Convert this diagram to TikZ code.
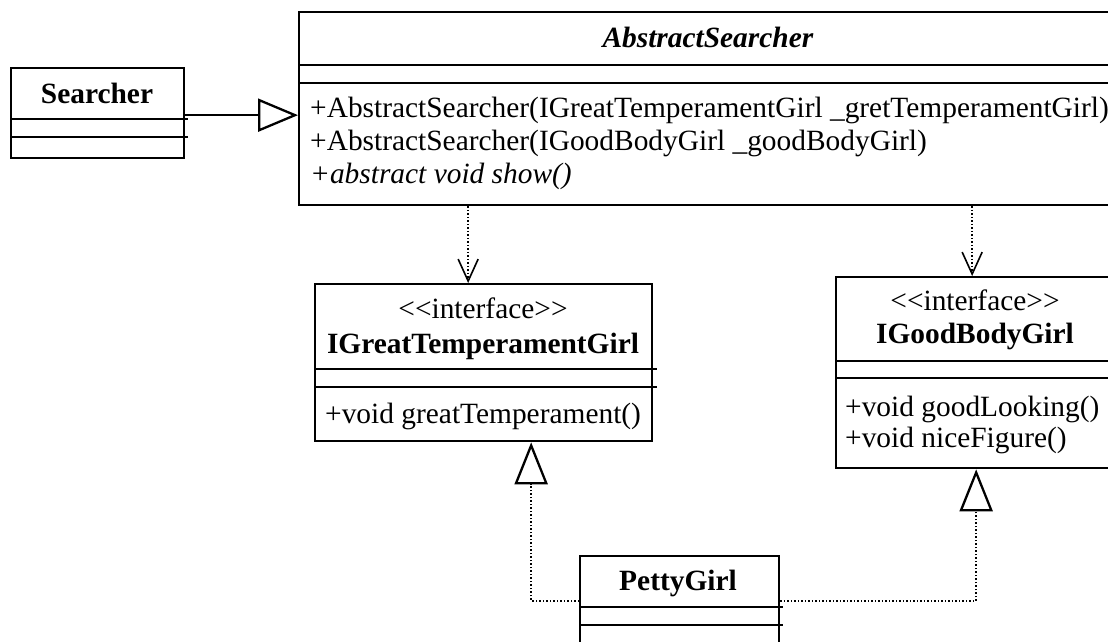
\documentclass[tikz,border=0pt]{standalone}
\usepackage{fontspec}
\setmainfont{Liberation Serif}
\usetikzlibrary{arrows.meta,calc}
\begin{document}
\begin{tikzpicture}[x=1pt,y=-1pt,
  cls/.style={draw, line width=2.3pt, rectangle, inner sep=0pt, anchor=north west},
  div/.style={line width=2.3pt},
  txt/.style={inner sep=0pt, font=\fontsize{29.4pt}{33pt}\selectfont},
  gen/.style={line width=2.3pt, -{Triangle[open, length=40pt, width=33pt, line width=2.3pt]}},
  dep/.style={line width=1.6pt, dash pattern=on 1.5pt off 2pt, -{Straight Barb[length=22pt, width=20pt, line width=1.6pt]}},
  real/.style={line width=1.6pt, dash pattern=on 1.5pt off 2pt, -{Triangle[open, length=42pt, width=33pt, line width=2.3pt]}}
]
\clip (0,0) rectangle (1108,641);
\fill[white] (0,0) rectangle (1108,641);

% class boxes
\node[cls, minimum width=173pt, minimum height=90pt] (searcher) at (10,67) {};
\node[cls, minimum width=817pt, minimum height=193pt] (abs) at (298,11) {};
\node[cls, minimum width=337pt, minimum height=157pt] (igreat) at (314,283) {};
\node[cls, minimum width=280pt, minimum height=191pt] (igood) at (835,276) {};
\node[cls, minimum width=199pt, minimum height=110pt] (petty) at (579,555) {};

% compartment dividers
\draw[div] ($(searcher.north west)+(0,52)$) -- ($(searcher.north east)+(3,52)$);
\draw[div] ($(searcher.north west)+(0,70)$) -- ($(searcher.north east)+(3,70)$);
\draw[div] ($(abs.north west)+(0,54)$) -- ($(abs.north east)+(0,54)$);
\draw[div] ($(abs.north west)+(0,72)$) -- ($(abs.north east)+(0,72)$);
\draw[div] ($(igreat.north west)+(0,86)$) -- ($(igreat.north east)+(4,86)$);
\draw[div] ($(igreat.north west)+(0,104)$) -- ($(igreat.north east)+(4,104)$);
\draw[div] ($(igood.north west)+(0,85)$) -- ($(igood.north east)+(0,85)$);
\draw[div] ($(igood.north west)+(0,102)$) -- ($(igood.north east)+(0,102)$);
\draw[div] ($(petty.north west)+(0,52)$) -- ($(petty.north east)+(3,52)$);
\draw[div] ($(petty.north west)+(0,70)$) -- ($(petty.north east)+(3,70)$);

% texts
\node[txt, anchor=base] (tsearcher) at (97,103) {\textbf{Searcher}};
\node[txt, anchor=base] (tabs) at (708,47) {\textbf{\textit{AbstractSearcher}}};
\node[txt, anchor=base west] (tabs1) at (310,117) {+AbstractSearcher(IGreatTemperamentGirl \_gretTemperamentGirl)};
\node[txt, anchor=base west] (tabs2) at (310,150) {+AbstractSearcher(IGoodBodyGirl \_goodBodyGirl)};
\node[txt, anchor=base west] (tabs3) at (310,183) {\textit{+abstract void show()}};
\node[txt, anchor=base] (tgreat0) at (483,318) {<\kern0pt<interface>\kern0pt>};
\node[txt, anchor=base] (tgreat1) at (483,353) {\textbf{IGreatTemperamentGirl}};
\node[txt, anchor=base west] (tgreat2) at (325,423) {+void greatTemperament()};
\node[txt, anchor=base] (tgood0) at (975,310) {<\kern0pt<interface>\kern0pt>};
\node[txt, anchor=base] (tgood1) at (975,343) {\textbf{IGoodBodyGirl}};
\node[txt, anchor=base west] (tgood2) at (845,416) {+void goodLooking()};
\node[txt, anchor=base west] (tgood3) at (845,447) {+void niceFigure()};
\node[txt, anchor=base] (tpetty) at (678,590) {\textbf{PettyGirl}};

% connectors
\coordinate (s1) at ($(searcher.east)+(0,2)$);
\draw[gen] (s1) -- (s1 -| abs.west);

\coordinate (d1) at ($(igreat.north)+(-15.5,0)$);
\draw[dep] (d1 |- abs.south) -- (d1);
\coordinate (d2) at ($(igood.north)+(-4,0)$);
\draw[dep] (d2 |- abs.south) -- (d2);

\coordinate (r1) at ($(igreat.south)+(47.5,0)$);
\coordinate (pl) at ($(petty.north west)+(0,46)$);
\draw[real] (pl) -| (r1);
\coordinate (pr) at ($(petty.north east)+(0,46)$);
\draw[real] (pr) -| (igood.south);
\end{tikzpicture}
\end{document}
